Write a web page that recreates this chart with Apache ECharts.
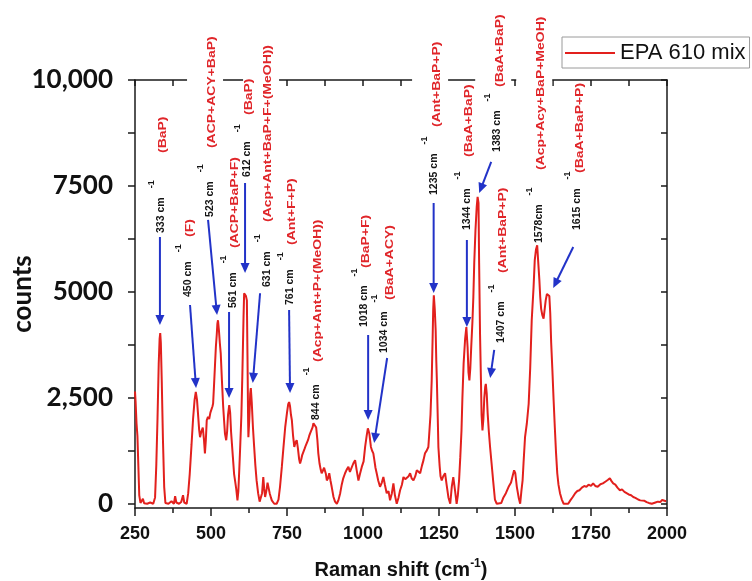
<!DOCTYPE html>
<html><head><meta charset="utf-8">
<script src="https://cdn.jsdelivr.net/npm/echarts@6/dist/echarts.min.js"></script>
<style>html,body{margin:0;padding:0;background:#fff}#c{width:752px;height:581px}</style>
</head><body><div id="c"></div>
<script>
// ---------- data ----------
const ramanShift = [250,252,255,258,261,264,268,272,276,280,290,300,310,316,320,324,328,331,333,335,338,342,346,350,360,370,378,382,386,395,402,408,412,420,425,430,436,441,446,450,454,457,461,464,468,473,477,480,483,486,490,494,498,502,505,507,510,513,516,519,521,523,526,529,532,536,540,543,546,550,553,556,560,563,566,568,572,576,579,583,587,590,593,596,600,603,605,607,609,612,615,618,620,622,623,626,629,631,634,638,642,646,650,655,660,664,668,672,675,678,682,686,689,693,697,700,708,716,722,727,733,738,744,750,754,757,760,763,766,770,774,778,782,786,790,793,797,800,804,808,812,815,819,823,826,830,834,837,842,846,850,853,857,861,864,868,872,875,878,881,885,889,893,897,903,908,914,919,925,930,935,941,946,952,957,963,968,974,979,985,990,996,1002,1007,1012,1016,1018,1021,1026,1030,1034,1038,1041,1045,1050,1056,1062,1067,1072,1078,1084,1089,1095,1100,1105,1111,1117,1122,1128,1133,1139,1144,1150,1155,1160,1166,1172,1177,1183,1188,1194,1199,1204,1210,1215,1218,1222,1226,1229,1231,1233,1236,1239,1241,1243,1246,1248,1252,1255,1259,1264,1270,1275,1281,1287,1292,1297,1303,1308,1312,1316,1320,1324,1327,1331,1336,1340,1344,1347,1350,1353,1356,1360,1363,1366,1370,1374,1377,1380,1382,1385,1388,1390,1393,1396,1399,1402,1404,1407,1410,1414,1418,1423,1428,1434,1440,1445,1455,1462,1470,1479,1487,1492,1497,1501,1506,1512,1517,1521,1525,1528,1533,1539,1545,1550,1555,1561,1565,1569,1573,1576,1580,1583,1586,1590,1594,1597,1601,1605,1610,1613,1616,1619,1623,1627,1631,1635,1639,1643,1648,1654,1660,1665,1675,1682,1690,1698,1705,1712,1720,1728,1735,1742,1750,1757,1764,1772,1781,1789,1797,1805,1812,1817,1823,1830,1837,1845,1852,1860,1867,1874,1882,1889,1896,1905,1912,1918,1926,1933,1940,1950,1962,1970,1978,1984,1990,1997,2000];
const counts = [2650,2400,1900,1600,900,200,20,60,120,10,0,30,0,150,900,2000,3300,3900,4030,3800,2900,1500,400,20,0,60,0,180,30,0,40,200,30,0,250,700,1400,2000,2450,2640,2450,2150,1750,1570,1700,1800,1500,1190,1500,1970,2050,2000,2150,2140,2300,2370,2800,3250,3700,4000,4250,4330,4100,3800,3550,2900,2300,1970,1650,1500,1700,2100,2330,2150,1700,1500,1100,700,550,350,80,300,800,1340,2100,3000,3700,4400,4970,4980,4900,4800,3500,2000,1570,2000,2600,2730,2400,1800,1340,900,550,250,50,30,250,630,350,160,300,500,480,250,150,80,0,0,100,400,870,1300,1800,2150,2350,2400,2300,2100,1970,1600,1340,1450,1500,1300,1050,950,1050,1150,1190,1300,1380,1420,1500,1600,1660,1700,1800,1900,1880,1800,1500,1190,950,800,720,780,850,870,700,550,600,720,550,400,160,50,0,80,250,450,600,720,800,870,750,790,950,1030,800,550,700,870,1000,1340,1600,1780,1800,1650,1340,1250,1190,1000,850,720,550,400,500,630,450,250,300,80,250,480,200,0,150,320,450,630,580,550,650,720,600,550,650,790,750,720,900,1030,1190,1260,1340,1660,2100,2910,3900,4600,4920,4600,4100,3400,2910,2000,1340,900,650,550,650,720,450,150,0,400,630,300,0,200,550,1100,1730,2500,3310,3900,4170,3700,3100,2910,3200,3700,4300,4880,5700,6460,7000,7240,7100,5680,4000,2910,2100,1730,2000,2500,2760,2830,2600,2140,1700,1340,950,550,100,0,0,20,150,250,400,500,650,790,720,400,150,0,300,550,950,1570,1900,2360,3200,4330,5100,5750,6000,6100,5750,5300,4880,4600,4450,4370,4550,4800,4950,4990,4900,4490,3800,3150,2450,1800,1200,720,450,250,100,0,0,0,80,160,250,300,320,380,420,400,450,420,480,420,400,460,480,520,560,600,540,480,450,380,320,340,280,250,220,200,160,140,100,80,60,70,40,20,0,30,50,40,90,80,60];
const seriesName = 'EPA 610 mix';
const xTickLabels = ['250','500','750','1000','1250','1500','1750','2000'];
const yLabelValues = [0,2500,5000,7500,10000];
const yTickLabels = ['0','2,500','5000','7500','10,000'];
const yTickMarks = [0,1250,2500,3750,5000,6250,7500,8750,10000];
const peakShifts = [333,450,523,561,612,631,761,844,1018,1034,1235,1344,1383,1407,1578,1615];
const peakTexts = ['333 cm','450 cm','523 cm','561 cm','612 cm','631 cm','761 cm','844 cm','1018 cm','1034 cm','1235 cm','1344 cm','1383 cm','1407 cm','1578cm','1615 cm'];
const peakAssign = ['(BaP)','(F)','(ACP+ACY+BaP)','(ACP+BaP+F)','(BaP)','(Acp+Ant+BaP+F+(MeOH))','(Ant+F+P)','(Acp+Ant+P+(MeOH))','(BaP+F)','(BaA+ACY)','(Ant+BaP+P)','(BaA+BaP)','(BaA+BaP)','(Ant+BaP+P)','(Acp+Acy+BaP+MeOH)','(BaA+BaP+P)'];

// ---------- annotation layout (data coordinates) ----------
// tx,ty: start of black label; rx,ry: start of red label; arrow: [x1,y1,x2,y2]; gap: hide top frame behind label
const annoLayout = [
  {tx:335.6, ty:6390, rx:342.2, ry:8278, arrow:[332,6295,332,4219]},
  {tx:424.4, ty:4880, rx:431, ry:6296, arrow:[431,4691,450.8,2732]},
  {tx:496.8, ty:6768, rx:503.4, ry:8393, arrow:[490.3,6697,519.9,4455], gap:true},
  {tx:572.5, ty:4620, rx:579, ry:6036, arrow:[559.4,4526,559.4,2497]},
  {tx:618.6, ty:7712, rx:625.2, ry:9175, arrow:[612,7570,612,5446]},
  {tx:684.4, ty:5116, rx:687.7, ry:6650, arrow:[661.4,4968,637.4,2851], gap:true},
  {tx:760, ty:4691, rx:766.7, ry:6107, arrow:[756.9,4573,760,2614]},
  {tx:845.7, ty:1977, rx:852.3, ry:3346, arrow:null},
  {tx:1003.7, ty:4172, rx:1010.3, ry:5565, arrow:[1016.9,3983,1016.9,1977]},
  {tx:1069.6, ty:3558, rx:1089.3, ry:4810, arrow:[1079.4,3440,1036.6,1434]},
  {tx:1234.1, ty:7287, rx:1243.7, ry:8892, arrow:[1232.4,7098,1232.4,4974], gap:true},
  {tx:1342.7, ty:6461, rx:1349, ry:8184, arrow:[1341.7,6225,1341.7,4172]},
  {tx:1441.5, ty:8302, rx:1451.3, ry:9836, arrow:[1421.7,8066,1382.2,7334], gap:true},
  {tx:1454.6, ty:3795, rx:1461.2, ry:5447, arrow:[1431.6,3629,1418.4,2968]},
  {tx:1579.7, ty:6154, rx:1586.3, ry:7877, arrow:null, gap:true},
  {tx:1704.8, ty:6461, rx:1714.6, ry:7806, arrow:[1691.6,6060,1625.8,5093]}
];

const RED = '#e2201d';
const LABEL_RED = '#e0262a';
const BLUE = '#2233c8';
const AX = '#1a1a1a';
const SANS = '"Liberation Sans", Arial, sans-serif';
const BLACK_FS = 10.5;

const mctx = document.createElement('canvas').getContext('2d');
function tw(t, size){ mctx.font = 'bold ' + size + 'px ' + SANS; return mctx.measureText(t).width; }

function renderAnno(params, api){
  const i = api.value(2);
  const L = annoLayout[i];
  const p0 = api.coord([L.tx, L.ty]);
  const pr = api.coord([L.rx, L.ry]);
  const ch = [];
  if (L.gap){
    const top = api.coord([L.rx, 10000])[1];
    ch.push({type:'rect', z2:0, shape:{x:pr[0]-25, y:top-6, width:36, height:13}, style:{fill:'#fff'}});
  }
  if (L.arrow){
    const a = api.coord([L.arrow[0], L.arrow[1]]);
    const b = api.coord([L.arrow[2], L.arrow[3]]);
    const dx=b[0]-a[0], dy=b[1]-a[1], len=Math.hypot(dx,dy), ux=dx/len, uy=dy/len;
    const hl=10, hw=4.5;
    const bx=b[0]-ux*hl, by=b[1]-uy*hl;
    ch.push({type:'line', z2:2, shape:{x1:a[0],y1:a[1],x2:bx+ux*2,y2:by+uy*2}, style:{stroke:BLUE,lineWidth:2}});
    ch.push({type:'polygon', z2:2, shape:{points:[[b[0],b[1]],[bx-uy*hw,by+ux*hw],[bx+uy*hw,by-ux*hw]]}, style:{fill:BLUE}});
  }
  const w = tw(peakTexts[i], BLACK_FS);
  ch.push({type:'group', x:p0[0], y:p0[1], rotation:Math.PI/2, children:[
    {type:'text', z2:10, style:{text:peakTexts[i], x:0, y:0, fontSize:BLACK_FS, fontWeight:'bold', fontFamily:SANS, fill:'#141414', align:'left', verticalAlign:'middle'}},
    {type:'text', z2:10, style:{text:'-1', x:w+9, y:-10, fontSize:9, fontWeight:'bold', fontFamily:SANS, fill:'#141414', align:'left', verticalAlign:'middle'}}
  ]});
  ch.push({type:'text', z2:10, x:pr[0], y:pr[1], rotation:Math.PI/2, scaleX:1.27,
    style:{text:peakAssign[i], fontSize:11, fontWeight:'bold', fontFamily:SANS, fill:LABEL_RED, align:'left', verticalAlign:'middle'}});
  return {type:'group', children:ch};
}

const chart = echarts.init(document.getElementById('c'), null, {renderer:'canvas'});
const axisLineStyle = {color:AX, width:1.5};
chart.setOption({
  animation:false,
  backgroundColor:'#fff',
  grid:{left:135, right:85, top:80, bottom:73, containLabel:false, outerBoundsMode:'none'},
  legend:{
    data:[seriesName], left:562, top:37, icon:'rect', itemWidth:50, itemHeight:2, padding:[5,4,4,3],
    borderColor:'#9a9a9a', borderWidth:1, backgroundColor:'#fff',
    textStyle:{fontSize:22, fontFamily:SANS, color:'#111'}
  },
  xAxis:[
    {type:'value', min:250, max:2000, interval:250, position:'bottom',
     name:'{a|Raman shift (cm}{s|-1}{a|)}', nameLocation:'middle', nameGap:50, nameMoveOverlap:false,
     nameTextStyle:{rich:{a:{fontSize:20, fontWeight:'bold', fontFamily:SANS, color:'#111', lineHeight:24},
                          s:{fontSize:12, fontWeight:'bold', fontFamily:SANS, color:'#111', verticalAlign:'top', lineHeight:14}}},
     axisLine:{onZero:false, lineStyle:axisLineStyle},
     axisTick:{inside:false, length:8, lineStyle:axisLineStyle},
     minorTick:{show:true, splitNumber:2, length:5, lineStyle:axisLineStyle},
     axisLabel:{margin:17, fontSize:18, fontWeight:'bold', fontFamily:SANS, color:'#111',
       formatter:function(v){ return xTickLabels[Math.round((v-250)/250)]; }},
     splitLine:{show:false}, minorSplitLine:{show:false}},
    {type:'value', min:250, max:2000, interval:125, position:'top',
     axisLine:{onZero:false, lineStyle:axisLineStyle},
     axisTick:{inside:true, length:6, lineStyle:axisLineStyle},
     axisLabel:{show:false}, splitLine:{show:false}}
  ],
  yAxis:[
    {type:'value', min:-100, max:10000, position:'left',
     name:'counts', nameLocation:'middle', nameGap:99, nameRotate:90, nameMoveOverlap:false,
     nameTextStyle:{fontSize:26, fontWeight:'bold', fontFamily:'Lato', color:'#111'},
     axisLine:{show:true, onZero:false, lineStyle:axisLineStyle},
     axisTick:{show:true, inside:false, length:7, customValues:yTickMarks, lineStyle:axisLineStyle},
     axisLabel:{customValues:yLabelValues, margin:22, fontSize:26, fontWeight:'bold', fontFamily:'Lato', color:'#111',
       formatter:function(v){ return yTickLabels[yLabelValues.indexOf(v)]; }},
     splitLine:{show:false}},
    {type:'value', min:-100, max:10000, position:'right',
     axisLine:{show:true, onZero:false, lineStyle:axisLineStyle},
     axisTick:{show:true, inside:true, length:6, customValues:yTickMarks, lineStyle:axisLineStyle},
     axisLabel:{show:false}, splitLine:{show:false}}
  ],
  series:[
    {name:seriesName, type:'line', symbol:'none', z:3,
     data:ramanShift.map(function(x,i){ return [x, counts[i]]; }),
     lineStyle:{color:RED, width:2}, itemStyle:{color:RED}},
    {type:'custom', z:5, clip:false, silent:true,
     data:peakShifts.map(function(s,i){ return [annoLayout[i].tx, annoLayout[i].ty, i]; }),
     renderItem:renderAnno}
  ]
});
</script></body></html>
